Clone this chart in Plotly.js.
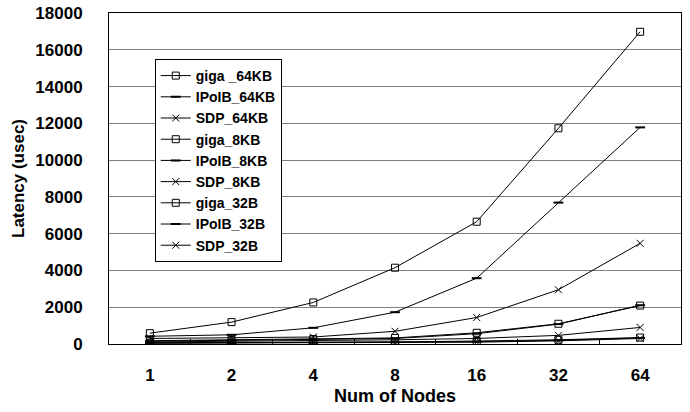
<!DOCTYPE html>
<html>
<head>
<meta charset="utf-8">
<script src="https://cdn.plot.ly/plotly-3.0.1.min.js"></script>
<style>html,body{margin:0;padding:0;background:#fff;}#chart{width:690px;height:412px;}</style>
</head>
<body>
<div id="chart"></div>
<script>
var nodes = ['1', '2', '4', '8', '16', '32', '64'];
var giga_64KB = [590, 1190, 2260, 4150, 6650, 11730, 16980];
var IPoIB_64KB = [420, 500, 880, 1730, 3580, 7690, 11780];
var SDP_64KB = [300, 340, 380, 690, 1440, 2950, 5475];
var giga_8KB = [180, 220, 270, 330, 610, 1100, 2090];
var IPoIB_8KB = [150, 190, 240, 300, 560, 1080, 2110];
var SDP_8KB = [110, 140, 180, 230, 300, 470, 900];
var giga_32B = [70, 80, 90, 110, 160, 230, 350];
var IPoIB_32B = [50, 60, 70, 90, 130, 200, 330];
var SDP_32B = [40, 50, 60, 70, 100, 170, 300];
var yTicks = [0, 2000, 4000, 6000, 8000, 10000, 12000, 14000, 16000, 18000];

var seriesNames = ['giga _64KB', 'IPoIB_64KB', 'SDP_64KB', 'giga_8KB', 'IPoIB_8KB', 'SDP_8KB', 'giga_32B', 'IPoIB_32B', 'SDP_32B'];
var seriesData = [giga_64KB, IPoIB_64KB, SDP_64KB, giga_8KB, IPoIB_8KB, SDP_8KB, giga_32B, IPoIB_32B, SDP_32B];
var markerStyles = [
  {symbol: 'square-open', size: 7, color: '#000', line: {width: 1, color: '#000'}},
  {symbol: 'line-ew', size: 7, color: '#000', line: {width: 2, color: '#000'}},
  {symbol: 'x-thin-open', size: 7, color: '#000', line: {width: 1, color: '#000'}}
];

var traces = seriesData.map(function (d, i) {
  return {
    type: 'scatter',
    mode: 'lines+markers',
    name: seriesNames[i],
    x: nodes,
    y: d,
    line: {color: '#000', width: 1},
    marker: markerStyles[i % 3]
  };
});

var fam = 'Liberation Sans, Arial, sans-serif';
var tickFont = {family: fam, size: 17, color: '#000', weight: 'bold'};
var legendFont = {family: fam, size: 14, color: '#000', weight: 'bold'};

var layout = {
  width: 690,
  height: 412,
  margin: {l: 109, r: 9, t: 13, b: 68},
  paper_bgcolor: '#fff',
  plot_bgcolor: '#fff',
  font: tickFont,
  showlegend: true,
  legend: {
    x: 0.080, y: 0.861, xanchor: 'left', yanchor: 'top',
    bgcolor: '#fff', bordercolor: '#000', borderwidth: 1,
    font: legendFont, tracegroupgap: 0, itemwidth: 30
  },
  xaxis: {
    type: 'category',
    tickson: 'boundaries',
    ticks: 'inside',
    ticklen: 5,
    tickcolor: '#000',
    showline: true, linecolor: '#000', linewidth: 1, mirror: true,
    showgrid: false, zeroline: false,
    ticklabelstandoff: 16,
    tickfont: tickFont,
    range: [-0.5, 6.5],
    title: {text: 'Num of Nodes', font: {family: fam, size: 18, color: '#000', weight: 'bold'}, standoff: 4}
  },
  yaxis: {
    range: [0, 18000],
    tickvals: yTicks,
    ticktext: yTicks.map(String),
    ticks: '',
    showline: true, linecolor: '#000', linewidth: 1, mirror: true,
    showgrid: true, gridcolor: '#7f7f7f', gridwidth: 1,
    zeroline: false,
    ticklabelstandoff: 22,
    tickfont: tickFont,
    title: {text: 'Latency (usec)', font: tickFont, standoff: 6}
  }
};

Plotly.newPlot('chart', traces, layout, {displayModeBar: false, staticPlot: true});
</script>
</body>
</html>
